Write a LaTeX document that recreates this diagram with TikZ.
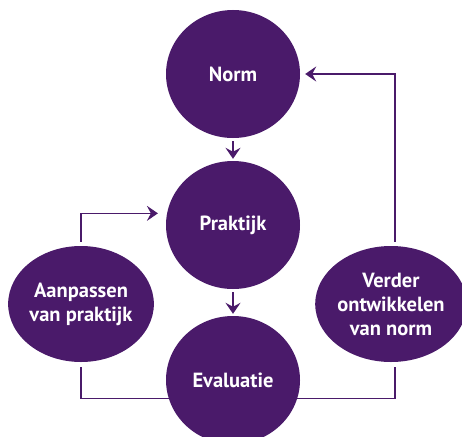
\documentclass[tikz,border=0pt]{standalone}
\usepackage{fontspec}
\setmainfont{PT Sans}
\usepackage{xcolor}
\usepackage{tikz}
\usetikzlibrary{shapes.geometric, arrows.meta, positioning}
\definecolor{paars}{HTML}{4A1A6A}

\begin{document}
\begin{tikzpicture}[x=1pt, y=-1pt,
    fase/.style={ellipse, fill=paars, text=white, inner sep=0pt,
      minimum width=134pt, minimum height=128pt,
      font=\bfseries\fontsize{20.5}{24}\selectfont, align=center},
    actie/.style={fase, minimum width=145pt, minimum height=116pt},
    pijl/.style={draw=paars, line width=1.5pt,
      -{Stealth[length=11pt, width=15pt, inset=4pt]}},
    lijn/.style={draw=paars, line width=1.5pt}]
  \useasboundingbox (0,0) rectangle (462,436);
  \node[fase] (norm) at (233,74) {Norm};
  \node[fase] (praktijk) at (233,225) {Praktijk};
  \node[fase] (evaluatie) at (233,380) {Evaluatie};
  \node[actie] (aanpassen) at (81,304) {Aanpassen\\van praktijk};
  \node[actie] (verder) at (391,304) {Verder\\ontwikkelen\\van norm};
  \draw[pijl, shorten <=3pt, shorten >=2pt] (norm) -- (praktijk);
  \draw[pijl, shorten <=3pt, shorten >=2pt] (praktijk) -- (evaluatie);
  \draw[pijl, shorten <=4pt, shorten >=9pt] (aanpassen.north) |- (praktijk.170);
  \draw[lijn, shorten <=5pt] (aanpassen.south) |- (evaluatie.196);
  \draw[pijl, shorten <=4pt, shorten >=5pt] ([xshift=4pt]verder.north) |- (norm.east);
  \draw[lijn, shorten <=5pt] ([xshift=4pt]verder.south) |- (evaluatie.-16);
\end{tikzpicture}
\end{document}
